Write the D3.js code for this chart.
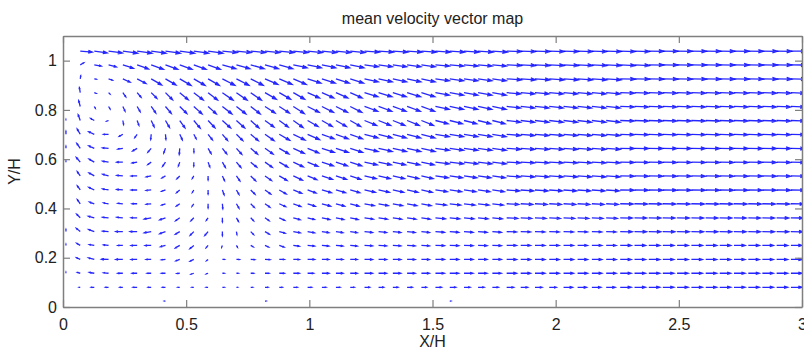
<!DOCTYPE html>
<html>
<head>
<meta charset="utf-8">
<script src="https://cdn.jsdelivr.net/npm/d3@7"></script>
<style>
  body { margin: 0; background: #fff; }
  svg { display: block; font-family: Arial, 'Liberation Sans', sans-serif; }
</style>
</head>
<body>
<div id="container"></div>
<script>
const xTicks = [0, 0.5, 1, 1.5, 2, 2.5, 3];
const yTicks = [0, 0.2, 0.4, 0.6, 0.8, 1];

// measurement grid (X/H), 52 columns
const xGrid = [
  0.012, 0.070, 0.127, 0.185, 0.243, 0.301, 0.358, 0.416, 0.474, 0.531,
  0.589, 0.647, 0.704, 0.762, 0.820, 0.878, 0.935, 0.993, 1.051, 1.108,
  1.166, 1.224, 1.281, 1.339, 1.397, 1.455, 1.512, 1.570, 1.628, 1.685,
  1.743, 1.801, 1.858, 1.916, 1.974, 2.032, 2.089, 2.147, 2.205, 2.262,
  2.320, 2.378, 2.435, 2.493, 2.551, 2.609, 2.666, 2.724, 2.782, 2.839,
  2.897, 2.955
];

// rows (Y/H), top to bottom
const yRows = [1.039, 0.983, 0.926, 0.870, 0.814, 0.757, 0.701, 0.644, 0.588, 0.532,
  0.475, 0.419, 0.362, 0.306, 0.250, 0.193, 0.137, 0.080, 0.024];

// mean speed, % of free stream, one array per row (top to bottom)
const speedRows = [
  [0, 86, 93, 100, 107, 107, 107, 107, 107, 107,  107, 107, 107, 107, 107, 107, 107, 107, 107, 107,  107, 107, 107, 107, 107, 107, 107, 107, 107, 107,  107, 107, 107, 107, 107, 107, 107, 107, 107, 107,  107, 107, 107, 107, 107, 107, 107, 107, 107, 107,  107, 107],
  [0, 29, 50, 57, 79, 86, 93, 93, 93, 93,  93, 100, 100, 100, 100, 100, 100, 100, 100, 100,  100, 100, 100, 100, 100, 100, 100, 100, 100, 100,  100, 107, 107, 107, 107, 107, 107, 107, 107, 107,  107, 107, 107, 107, 107, 107, 107, 107, 107, 107,  107, 107],
  [0, 21, 14, 29, 57, 71, 86, 86, 93, 93,  93, 100, 100, 100, 100, 100, 100, 100, 100, 100,  100, 100, 100, 100, 100, 100, 100, 100, 100, 100,  100, 107, 107, 107, 107, 107, 107, 107, 107, 107,  107, 107, 107, 107, 107, 107, 107, 107, 107, 107,  107, 107],
  [0, 36, 14, 14, 36, 43, 57, 71, 79, 86,  86, 93, 93, 93, 93, 93, 93, 93, 93, 93,  93, 100, 100, 100, 100, 100, 100, 100, 100, 100,  100, 100, 100, 100, 100, 100, 100, 100, 100, 100,  100, 100, 100, 100, 100, 100, 100, 100, 100, 100,  100, 100],
  [0, 43, 14, 21, 36, 43, 57, 64, 71, 79,  79, 86, 86, 86, 86, 86, 93, 93, 93, 93,  93, 100, 100, 100, 100, 100, 100, 100, 100, 100,  100, 100, 100, 100, 100, 100, 100, 100, 100, 100,  100, 100, 100, 100, 100, 100, 100, 100, 100, 100,  100, 100],
  [7, 43, 29, 14, 29, 36, 50, 57, 64, 71,  71, 79, 79, 79, 79, 79, 86, 86, 86, 86,  86, 93, 93, 93, 93, 93, 93, 93, 93, 93,  93, 100, 100, 100, 100, 100, 100, 100, 100, 100,  100, 100, 100, 100, 100, 100, 100, 100, 100, 100,  100, 100],
  [21, 43, 43, 36, 29, 29, 36, 36, 43, 36,  50, 57, 64, 71, 79, 86, 93, 93, 93, 93,  93, 100, 100, 100, 100, 100, 100, 100, 100, 100,  100, 100, 100, 100, 100, 100, 100, 100, 100, 100,  100, 100, 100, 100, 100, 100, 100, 100, 100, 100,  100, 100],
  [14, 43, 43, 43, 36, 36, 36, 36, 43, 29,  43, 50, 57, 64, 71, 79, 86, 86, 93, 93,  93, 100, 100, 100, 100, 100, 100, 100, 100, 100,  100, 100, 100, 100, 100, 100, 100, 100, 100, 100,  100, 100, 100, 100, 100, 100, 100, 100, 100, 100,  100, 100],
  [7, 43, 43, 43, 43, 36, 29, 36, 29, 29,  36, 43, 50, 57, 64, 71, 79, 79, 86, 86,  86, 93, 93, 93, 93, 93, 100, 100, 100, 100,  100, 100, 100, 100, 100, 100, 100, 100, 100, 100,  100, 100, 100, 100, 100, 100, 100, 100, 100, 100,  100, 100],
  [0, 36, 43, 43, 43, 43, 36, 29, 29, 21,  29, 36, 43, 50, 57, 64, 71, 71, 79, 79,  79, 86, 86, 86, 86, 86, 93, 93, 93, 93,  93, 100, 100, 100, 100, 100, 100, 100, 100, 100,  100, 100, 100, 100, 100, 100, 100, 100, 100, 100,  100, 100],
  [0, 36, 43, 43, 43, 43, 36, 29, 29, 21,  29, 36, 36, 43, 50, 57, 64, 64, 71, 71,  71, 79, 79, 79, 79, 79, 86, 86, 86, 86,  86, 93, 93, 93, 93, 93, 93, 93, 93, 100,  100, 100, 100, 100, 100, 100, 100, 100, 100, 100,  100, 100],
  [0, 36, 36, 36, 36, 36, 36, 29, 29, 21,  29, 36, 36, 36, 43, 50, 57, 57, 64, 64,  64, 71, 71, 71, 71, 71, 79, 79, 79, 79,  79, 86, 86, 86, 86, 86, 86, 86, 86, 93,  93, 93, 93, 93, 93, 93, 93, 93, 93, 93,  93, 93],
  [0, 36, 43, 43, 43, 43, 50, 43, 36, 29,  21, 29, 29, 29, 36, 43, 50, 50, 57, 57,  57, 64, 64, 64, 64, 64, 71, 71, 71, 71,  71, 79, 79, 79, 79, 79, 79, 79, 79, 86,  86, 86, 86, 86, 86, 86, 86, 86, 86, 86,  86, 86],
  [14, 36, 43, 43, 50, 50, 50, 43, 36, 36,  36, 29, 21, 29, 36, 43, 50, 50, 50, 50,  50, 57, 57, 57, 57, 57, 64, 64, 64, 64,  64, 71, 71, 71, 71, 71, 71, 71, 71, 86,  86, 86, 86, 86, 86, 86, 86, 86, 86, 86,  86, 86],
  [7, 29, 36, 36, 36, 43, 43, 36, 36, 36,  21, 14, 14, 21, 29, 36, 43, 50, 50, 50,  50, 57, 57, 57, 57, 57, 64, 64, 64, 64,  64, 71, 71, 71, 71, 71, 71, 71, 71, 79,  79, 79, 79, 79, 79, 79, 79, 79, 79, 79,  79, 79],
  [0, 29, 43, 50, 50, 43, 36, 29, 29, 29,  14, 14, 21, 29, 36, 36, 43, 50, 50, 50,  50, 57, 57, 57, 57, 57, 64, 64, 64, 64,  64, 71, 71, 71, 71, 71, 71, 71, 71, 79,  79, 79, 79, 79, 79, 79, 79, 79, 79, 79,  79, 79],
  [7, 21, 36, 36, 36, 36, 29, 29, 21, 21,  14, 14, 14, 21, 29, 36, 43, 43, 50, 50,  50, 57, 57, 57, 57, 57, 64, 64, 64, 64,  64, 71, 71, 71, 71, 71, 71, 71, 71, 79,  79, 79, 79, 79, 79, 79, 79, 79, 79, 79,  79, 79],
  [0, 7, 21, 21, 21, 29, 21, 21, 14, 14,  14, 14, 7, 14, 21, 21, 29, 29, 29, 29,  29, 36, 36, 36, 36, 36, 43, 43, 43, 43,  43, 50, 50, 50, 50, 64, 64, 64, 64, 79,  79, 79, 79, 79, 79, 79, 79, 79, 79, 79,  79, 79],
  [0, 0, 0, 0, 0, 0, 0, 7, 0, 0,  0, 0, 0, 0, 7, 0, 0, 0, 0, 0,  0, 0, 0, 0, 0, 0, 0, 7, 0, 0,  0, 0, 0, 0, 0, 0, 0, 0, 0, 0,  0, 0, 0, 0, 0, 0, 0, 0, 0, 0,  0, 0]
];

// flow direction, degrees counter-clockwise from +X, one array per row
const dirRows = [
  [0, -5, -8, -8, -8, -8, -8, -8, -8, -8,  -8, -6, -6, -6, -6, -6, -6, -6, -6, -6,  -6, -4, -4, -4, -4, -4, -4, -4, -4, -4,  -4, -2, -2, -2, -2, -2, -2, -2, -2, -2,  -2, -1, -1, -1, -1, -1, -1, -1, -1, -1,  -1, -1],
  [0, 30, -10, -15, -18, -20, -20, -20, -20, -20,  -20, -16, -16, -16, -16, -16, -12, -12, -12, -12,  -12, -8, -8, -8, -8, -8, -5, -5, -5, -5,  -5, -3, -3, -3, -3, -3, -3, -3, -3, -3,  -3, -1, -1, -1, -1, -1, -1, -1, -1, -1,  -1, -1],
  [0, 80, -10, -20, -25, -28, -30, -30, -30, -30,  -30, -27, -27, -27, -23, -23, -23, -18, -18, -18,  -18, -12, -12, -12, -12, -12, -8, -8, -8, -8,  -8, -4, -4, -4, -4, -4, -4, -4, -4, -1,  -1, -1, -1, -1, -1, -1, -1, -1, -1, -1,  -1, -1],
  [0, 100, -20, -45, -55, -50, -45, -45, -40, -38,  -38, -35, -35, -35, -30, -30, -30, -24, -24, -24,  -24, -17, -17, -17, -17, -17, -10, -10, -10, -10,  -10, -5, -5, -5, -5, -5, -5, -5, -5, -2,  -2, -2, -2, -2, -2, -2, -2, -2, -2, -2,  -2, -2],
  [0, 105, -60, -60, -65, -60, -55, -50, -45, -42,  -42, -38, -38, -38, -33, -33, -33, -27, -27, -27,  -27, -20, -20, -20, -20, -20, -12, -12, -12, -12,  -12, -6, -6, -6, -6, -6, -6, -6, -6, -2,  -2, -2, -2, -2, -2, -2, -2, -2, -2, -2,  -2, -2],
  [90, 110, 150, 200, -80, -70, -65, -60, -55, -50,  -47, -42, -42, -42, -36, -36, -36, -30, -30, -30,  -30, -22, -22, -22, -22, -22, -14, -14, -14, -14,  -14, -7, -7, -7, -7, -7, -7, -7, -7, -2,  -2, -2, -2, -2, -2, -2, -2, -2, -2, -2,  -2, -2],
  [90, 120, 155, 180, 210, 235, 265, -85, -65, -62,  -52, -50, -45, -40, -35, -30, -26, -24, -20, -20,  -20, -15, -15, -15, -15, -15, -10, -10, -10, -10,  -10, -5, -5, -5, -5, -5, -5, -5, -5, -2,  -2, -2, -2, -2, -2, -2, -2, -2, -2, -2,  -2, -2],
  [90, 125, 155, 175, 190, 210, 230, 250, 265, -88,  -60, -52, -48, -40, -35, -30, -25, -22, -18, -18,  -18, -13, -13, -13, -13, -13, -8, -8, -8, -8,  -8, -4, -4, -4, -4, -4, -4, -4, -4, -1,  -1, -1, -1, -1, -1, -1, -1, -1, -1, -1,  -1, -1],
  [90, 130, 150, 170, 180, 190, 215, 235, 250, -90,  -70, -60, -50, -40, -35, -30, -25, -22, -18, -18,  -18, -12, -12, -12, -12, -12, -7, -7, -7, -7,  -7, -3, -3, -3, -3, -3, -3, -3, -3, -1,  -1, -1, -1, -1, -1, -1, -1, -1, -1, -1,  -1, -1],
  [0, 125, 150, 165, 175, 180, 190, 210, 225, 240,  -90, -65, -55, -45, -35, -30, -25, -22, -18, -18,  -18, -13, -13, -13, -13, -13, -8, -8, -8, -8,  -8, -4, -4, -4, -4, -4, -4, -4, -4, -1,  -1, -1, -1, -1, -1, -1, -1, -1, -1, -1,  -1, -1],
  [0, 125, 155, 170, 175, 180, 185, 200, 220, 240,  -90, -70, -60, -45, -35, -30, -22, -20, -16, -16,  -16, -12, -12, -12, -12, -12, -8, -8, -8, -8,  -8, -4, -4, -4, -4, -4, -4, -4, -4, -1,  -1, -1, -1, -1, -1, -1, -1, -1, -1, -1,  -1, -1],
  [0, 125, 160, 170, 175, 180, 185, 200, 215, 235,  -90, -85, -60, -45, -35, -25, -20, -18, -15, -15,  -15, -11, -11, -11, -11, -11, -7, -7, -7, -7,  -7, -3, -3, -3, -3, -3, -3, -3, -3, -1,  -1, -1, -1, -1, -1, -1, -1, -1, -1, -1,  -1, -1],
  [0, 135, 165, 175, 175, 180, 190, 200, 215, 225,  235, -90, -60, -45, -35, -25, -15, -14, -12, -12,  -12, -9, -9, -9, -9, -9, -6, -6, -6, -6,  -6, -3, -3, -3, -3, -3, -3, -3, -3, -1,  -1, -1, -1, -1, -1, -1, -1, -1, -1, -1,  -1, -1],
  [90, 140, 160, 175, 180, 180, 190, 200, 210, 225,  230, -90, -80, -45, -30, -15, -10, -10, -8, -8,  -8, -6, -6, -6, -6, -6, -4, -4, -4, -4,  -4, -2, -2, -2, -2, -2, -2, -2, -2, -1,  -1, -1, -1, -1, -1, -1, -1, -1, -1, -1,  -1, -1],
  [90, 150, 170, 175, 180, 180, 180, 195, 210, 220,  230, 250, -60, -30, -25, -20, -8, -6, -5, -5,  -5, -3, -3, -3, -3, -3, -2, -2, -2, -2,  -2, 0, 0, 0, 0, 0, 0, 0, 0, 0,  0, 0, 0, 0, 0, 0, 0, 0, 0, 0,  0, 0],
  [0, 155, 165, 178, 180, 180, 180, 185, 200, 205,  220, 0, 0, -3, -3, 0, 0, 0, 0, 0,  0, 0, 0, 0, 0, 0, 0, 0, 0, 0,  0, 0, 0, 0, 0, 0, 0, 0, 0, 0,  0, 0, 0, 0, 0, 0, 0, 0, 0, 0,  0, 0],
  [90, 165, 170, 175, 180, 180, 180, 180, 185, 200,  200, 0, 0, 0, 0, 0, 0, 0, 0, 0,  0, 0, 0, 0, 0, 0, 0, 0, 0, 0,  0, 0, 0, 0, 0, 0, 0, 0, 0, 0,  0, 0, 0, 0, 0, 0, 0, 0, 0, 0,  0, 0],
  [0, 180, 180, 180, 180, 180, 180, 180, 180, 180,  180, 0, 0, 0, 0, 0, 0, 0, 0, 0,  0, 0, 0, 0, 0, 0, 0, 0, 0, 0,  0, 0, 0, 0, 0, 0, 0, 0, 0, 0,  0, 0, 0, 0, 0, 0, 0, 0, 0, 0,  0, 0],
  [0, 0, 0, 0, 0, 0, 0, 180, 0, 0,  0, 0, 0, 0, 0, 0, 0, 0, 0, 0,  0, 0, 0, 0, 0, 0, 0, 0, 0, 0,  0, 0, 0, 0, 0, 0, 0, 0, 0, 0,  0, 0, 0, 0, 0, 0, 0, 0, 0, 0,  0, 0]
];

const width = 804, height = 350;
const margin = { top: 36, right: 2, bottom: 43, left: 63 };

const svg = d3.select('#container').append('svg')
  .attr('width', width)
  .attr('height', height);

svg.append('rect')
  .attr('width', width)
  .attr('height', height)
  .attr('fill', '#fff');

const x = d3.scaleLinear().domain([0, 3]).range([margin.left, width - margin.right]);
const y = d3.scaleLinear().domain([0, 1.1]).range([height - margin.bottom, margin.top]);
// arrow length in px for a given speed
const len = d3.scaleLinear().domain([0, 100]).range([0, 14]);

svg.append('defs').append('clipPath')
  .attr('id', 'plot-area')
  .append('rect')
  .attr('x', x(0))
  .attr('y', y(1.1))
  .attr('width', x(3) - x(0))
  .attr('height', y(0) - y(1.1));

// flatten rows into vectors
const vectors = [];
yRows.forEach((yv, i) => {
  xGrid.forEach((xv, j) => {
    const s = speedRows[i][j];
    if (s > 0) vectors.push({ x: xv, y: yv, s: s, dir: dirRows[i][j] });
  });
});

// quiver arrow: shaft + two barbs
const alpha = 0.33, beta = 0.33;
function arrowPath(d) {
  const x0 = x(d.x), y0 = y(d.y);
  const a = d.dir * Math.PI / 180;
  const u = len(d.s) * Math.cos(a);
  const v = -len(d.s) * Math.sin(a);
  const tx = x0 + u, ty = y0 + v;
  const h1x = tx - alpha * (u + beta * v), h1y = ty - alpha * (v - beta * u);
  const h2x = tx - alpha * (u - beta * v), h2y = ty - alpha * (v + beta * u);
  return `M${x0},${y0}L${tx},${ty}M${h1x},${h1y}L${tx},${ty}L${h2x},${h2y}`;
}

svg.append('g')
  .attr('clip-path', 'url(#plot-area)')
  .selectAll('path')
  .data(vectors)
  .join('path')
  .attr('d', arrowPath)
  .attr('fill', 'none')
  .attr('stroke', '#0000ff')
  .attr('stroke-opacity', 0.85)
  .attr('stroke-width', 1.3);

// axes box with inward ticks on all four sides
const axisColor = '#7f7f7f';
const tickLen = 7;
const gx = svg.append('g')
  .attr('transform', `translate(0,${y(0)})`)
  .call(d3.axisBottom(x).tickValues(xTicks).tickSizeInner(-tickLen).tickSizeOuter(0).tickPadding(12)
    .tickFormat(d3.format('')));
const gxTop = svg.append('g')
  .attr('transform', `translate(0,${y(1.1)})`)
  .call(d3.axisTop(x).tickValues(xTicks).tickSizeInner(-tickLen).tickSizeOuter(0).tickFormat(''));
const gy = svg.append('g')
  .attr('transform', `translate(${x(0)},0)`)
  .call(d3.axisLeft(y).tickValues(yTicks).tickSizeInner(-tickLen).tickSizeOuter(0).tickPadding(6)
    .tickFormat(d3.format('')));
const gyRight = svg.append('g')
  .attr('transform', `translate(${x(3)},0)`)
  .call(d3.axisRight(y).tickValues(yTicks).tickSizeInner(-tickLen).tickSizeOuter(0).tickFormat(''));

[gx, gxTop, gy, gyRight].forEach(g => {
  g.select('.domain').attr('stroke', axisColor).attr('stroke-width', 1.5);
  g.selectAll('.tick line').attr('stroke', axisColor).attr('stroke-width', 1.2);
  g.selectAll('.tick text')
    .attr('fill', '#222')
    .style('font-size', '16px')
    .style('font-family', 'Arial, "Liberation Sans", sans-serif');
});

svg.append('text')
  .attr('x', (x(0) + x(3)) / 2)
  .attr('y', 24)
  .attr('text-anchor', 'middle')
  .attr('fill', '#222')
  .style('font-size', '16px')
  .text('mean velocity vector map');

svg.append('text')
  .attr('x', (x(0) + x(3)) / 2)
  .attr('y', 347)
  .attr('text-anchor', 'middle')
  .attr('fill', '#222')
  .style('font-size', '16px')
  .text('X/H');

svg.append('text')
  .attr('transform', `translate(20,${(y(0) + y(1.1)) / 2}) rotate(-90)`)
  .attr('text-anchor', 'middle')
  .attr('fill', '#222')
  .style('font-size', '16px')
  .text('Y/H');
</script>
</body>
</html>
